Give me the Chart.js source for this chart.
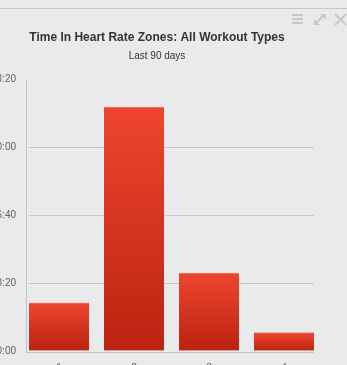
<!DOCTYPE html>
<html>
<head>
<meta charset="utf-8">
<script src="https://cdn.jsdelivr.net/npm/chart.js@4/dist/chart.umd.min.js"></script>
<style>
  html, body { margin: 0; padding: 0; background: #e9eaec; }
  .panel { position: relative; width: 347px; height: 365px; overflow: hidden; }
  .topline { position: absolute; left: 0; top: 8px; width: 347px; height: 1px; background: #c6c7c9; }
  .tools { position: absolute; top: 13px; left: 291px; }
  canvas { position: absolute; left: 0; top: 0; }
</style>
</head>
<body>
<div class="panel">
  <div class="topline"></div>
  <canvas id="hr-zones" width="347" height="365"></canvas>
  <svg class="tools" width="56" height="14" viewBox="0 0 56 14">
    <g fill="#c7c8ca">
      <rect x="1" y="1" width="11" height="2"></rect>
      <rect x="1" y="5" width="11" height="2"></rect>
      <rect x="1" y="9" width="11" height="2"></rect>
    </g>
    <g stroke="#c7c8ca" stroke-width="2" fill="#c7c8ca">
      <line x1="25" y1="10" x2="33" y2="2"></line>
      <polygon points="29,1 35,1 35,7" stroke="none"></polygon>
      <polygon points="23,6 23,12 29,12" stroke="none"></polygon>
      <line x1="44" y1="1" x2="55" y2="12"></line>
      <line x1="55" y1="1" x2="44" y2="12"></line>
    </g>
  </svg>
</div>
<script>
  // heart rate zones and seconds spent in each one
  const zones = ['1', '2', '3', '4'];
  const secondsInZone = [3540, 17960, 5740, 1350];
  const yTicks = [0, 5000, 10000, 15000, 20000];

  function formatDuration(sec) {
    const h = Math.floor(sec / 3600);
    const m = Math.floor((sec % 3600) / 60);
    const s = sec % 60;
    const pad = (n) => String(n).padStart(2, '0');
    return h + ':' + pad(m) + ':' + pad(s);
  }

  function barFill(ctx) {
    const chart = ctx.chart;
    if (!chart.chartArea) return '#d9341f';
    const y = chart.scales.y;
    const v = secondsInZone[ctx.dataIndex];
    const top = y.getPixelForValue(v);
    const bottom = y.getPixelForValue(0);
    const g = chart.ctx.createLinearGradient(0, top, 0, bottom);
    g.addColorStop(0, '#ee452e');
    g.addColorStop(1, '#bb2311');
    return g;
  }

  // axis lines sit a little outside the plot area
  const axisLines = {
    id: 'axisLines',
    afterDraw(chart) {
      const { ctx, chartArea } = chart;
      ctx.save();
      ctx.strokeStyle = '#c2c3c5';
      ctx.lineWidth = 1;
      ctx.beginPath();
      ctx.moveTo(chartArea.left - 2.5, chartArea.top);
      ctx.lineTo(chartArea.left - 2.5, chartArea.bottom + 2);
      ctx.moveTo(chartArea.left - 3, chartArea.bottom + 1.5);
      ctx.lineTo(chartArea.right, chartArea.bottom + 1.5);
      ctx.stroke();
      ctx.restore();
    }
  };

  const font = 'Liberation Sans, Arial, sans-serif';

  new Chart(document.getElementById('hr-zones'), {
    type: 'bar',
    data: {
      datasets: [{
        data: zones.map((z, i) => ({ x: i + 1, y: secondsInZone[i] })),
        backgroundColor: barFill,
        borderColor: '#ef7f6c',
        borderWidth: { top: 1, left: 0, right: 0, bottom: 0 },
        borderSkipped: false,
        barThickness: 60
      }]
    },
    options: {
      responsive: false,
      animation: false,
      layout: { padding: { left: 0, right: 33, top: 0, bottom: 0 } },
      plugins: {
        legend: { display: false },
        tooltip: { enabled: false },
        title: {
          display: true,
          text: 'Time In Heart Rate Zones: All Workout Types',
          color: '#333333',
          font: { family: font, size: 12, weight: 'bold' },
          padding: { top: 30, bottom: 0 }
        },
        subtitle: {
          display: true,
          text: 'Last 90 days',
          color: '#333333',
          font: { family: font, size: 10 },
          padding: { top: 6, bottom: 17 }
        }
      },
      scales: {
        x: {
          type: 'linear',
          offset: false,
          min: 0.6,
          max: zones.length + 0.4,
          grid: { display: false, drawTicks: false, offset: false },
          border: { display: false },
          afterBuildTicks: (scale) => {
            scale.ticks = zones.map((z, i) => ({ value: i + 1 }));
          },
          afterFit: (scale) => {
            scale.height = 14;
            scale.paddingLeft = 0;
            scale.paddingRight = 0;
          },
          ticks: {
            color: '#606060',
            font: { family: font, size: 10 },
            padding: 11,
            callback: (v) => zones[v - 1]
          }
        },
        y: {
          min: 0,
          max: 20000,
          afterBuildTicks: (scale) => {
            scale.ticks = yTicks.map((v) => ({ value: v }));
          },
          afterFit: (scale) => {
            scale.width = 29;
            scale.paddingTop = 0;
            scale.paddingBottom = 0;
          },
          border: { display: false },
          grid: {
            drawTicks: false,
            color: (c) => (c.tick && c.tick.value > 0 && c.tick.value < 20000) ? '#c6c7c9' : 'rgba(0,0,0,0)'
          },
          ticks: {
            color: '#606060',
            font: { family: font, size: 10 },
            padding: 13,
            callback: (v) => formatDuration(v)
          }
        }
      }
    },
    plugins: [axisLines]
  });
</script>
</body>
</html>
